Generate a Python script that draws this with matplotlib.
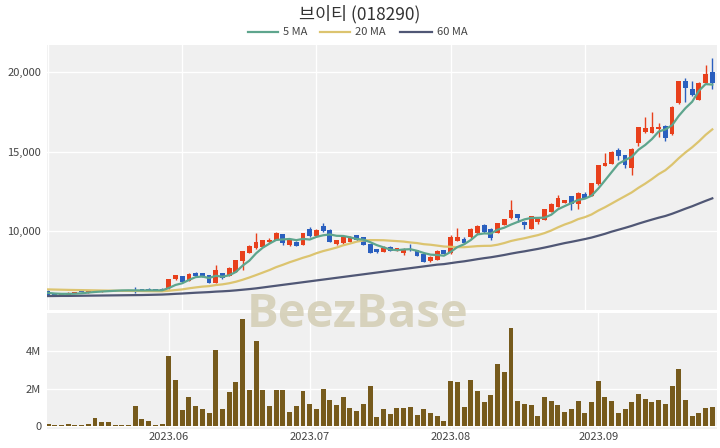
import matplotlib
matplotlib.use('Agg')
import matplotlib.pyplot as plt
from matplotlib.lines import Line2D
from matplotlib.ticker import FuncFormatter, FixedLocator
import numpy as np
import pandas as pd

plt.rcParams['font.family'] = ['Noto Sans CJK KR', 'DejaVu Sans']

title = '브이티 (018290)'
month_labels = ['2023.06', '2023.07', '2023.08', '2023.09']
month_idx = [18, 39, 60, 82]
price_ticks = [10000, 15000, 20000]
vol_ticks = [0, 2000000, 4000000]

opens = [6250, 6080, 5940, 5980, 6110, 6150, 6130, 6150, 6200, 6210,
         6220, 6230, 6240, 6300, 6330, 6350, 6330, 6360, 6390, 6960,
         7150, 6870, 7380, 7330, 7220, 6750, 7330, 7160, 7440, 8130,
         8630, 8910, 9020, 9300, 9460, 9790, 9110, 9330, 9120, 10120,
         9700, 10300, 10080, 9170, 9240, 9330, 9740, 9600, 9160, 8840,
         8700, 9000, 8740, 8620, 8870, 8800, 8550, 8140, 8170, 8800,
         8600, 9400, 9520, 9600, 9850, 10400, 10150, 9900, 10380, 10800,
         11070, 10580, 10130, 10590, 10700, 11220, 11530, 11760, 12200, 11720,
         12330, 12210, 12930, 14100, 14220, 15100, 14790, 13950, 15530, 16220,
         16200, 16420, 16600, 16100, 18050, 19450, 18920, 18280, 19300, 20030]
highs = [6280, 6120, 6080, 6130, 6160, 6180, 6190, 6260, 6280, 6290,
         6280, 6290, 6300, 6500, 6370, 6380, 6360, 6390, 6980, 7250,
         7180, 7350, 7420, 7360, 7240, 7870, 7350, 7750, 8200, 8760,
         9100, 9850, 9450, 9560, 9930, 9820, 9490, 9350, 9880, 10230,
         10150, 10480, 10100, 9440, 9680, 9690, 9760, 9620, 9180, 8860,
         9050, 9030, 8960, 8910, 9180, 8820, 8570, 8400, 8780, 8820,
         9750, 10170, 9600, 10180, 10400, 10450, 10180, 10500, 10760, 11950,
         11100, 10620, 10950, 10900, 11400, 11750, 12290, 11960, 12230, 12480,
         12480, 13030, 14180, 14900, 15030, 15200, 14810, 15230, 16560, 17190,
         17520, 16780, 16650, 17850, 19480, 19630, 19450, 19370, 20450, 20880]
lows = [5960, 5920, 5920, 5960, 6090, 6110, 6120, 6140, 6180, 6200,
        6200, 6210, 6220, 6120, 6230, 6260, 6250, 6260, 6370, 6930,
        6780, 6850, 7150, 7100, 6720, 6720, 7000, 7140, 7420, 7550,
        8600, 8880, 8990, 9250, 9440, 9130, 9080, 9030, 9100, 9640,
        9650, 9930, 9300, 9140, 9150, 9310, 9380, 9100, 8620, 8630,
        8690, 8740, 8720, 8480, 8740, 8420, 8040, 8020, 8150, 8540,
        8580, 9380, 9200, 9580, 9830, 9900, 9440, 9850, 10360, 10780,
        10590, 10100, 10100, 10420, 10680, 11200, 11510, 11740, 11320, 11380,
        12050, 12190, 12900, 14080, 14200, 14480, 13950, 13530, 15360, 16200,
        16180, 15900, 15650, 16050, 18030, 18150, 18500, 18260, 19280, 18950]
closes = [5990, 5950, 6050, 6110, 6140, 6130, 6170, 6240, 6250, 6260,
          6250, 6270, 6280, 6230, 6250, 6280, 6270, 6280, 6950, 7225,
          6810, 7320, 7170, 7130, 6750, 7520, 7020, 7640, 8170, 8740,
          9075, 9330, 9430, 9450, 9900, 9230, 9475, 9060, 9850, 9700,
          10060, 9980, 9330, 9420, 9640, 9650, 9440, 9120, 8640, 8700,
          8950, 8760, 8900, 8870, 8780, 8450, 8070, 8380, 8760, 8560,
          9640, 9600, 9250, 10100, 10330, 9960, 9550, 10480, 10730, 11300,
          10800, 10350, 10930, 10760, 11370, 11720, 12060, 11930, 11720, 12370,
          12100, 13000, 14160, 14300, 15000, 14700, 14180, 15190, 16530, 16500,
          16560, 16540, 15880, 17830, 19450, 19000, 18560, 19350, 19920, 19300]
volumes = [120000, 40000, 40000, 120000, 70000, 70000, 100000, 430000, 200000, 200000,
           70000, 70000, 70000, 1080000, 390000, 250000, 40000, 110000, 3730000, 2470000,
           850000, 1560000, 1070000, 900000, 710000, 4040000, 900000, 1810000, 2350000, 5690000,
           1920000, 4550000, 1900000, 1050000, 1940000, 1940000, 760000, 1050000, 1880000, 1160000,
           900000, 1990000, 1370000, 1140000, 1560000, 980000, 820000, 1160000, 2120000, 500000,
           900000, 620000, 960000, 960000, 1000000, 570000, 890000, 710000, 530000, 280000,
           2400000, 2360000, 1010000, 2450000, 1880000, 1260000, 1670000, 3310000, 2880000, 5210000,
           1350000, 1190000, 1100000, 530000, 1560000, 1350000, 1140000, 750000, 900000, 1350000,
           690000, 1260000, 2420000, 1560000, 1330000, 680000, 890000, 1260000, 1720000, 1460000,
           1260000, 1370000, 1160000, 2130000, 3020000, 1400000, 550000, 680000, 980000, 1030000]

# moving-average values before enough in-window history exists
ma5_head = [6100, 6060, 6040, 6040]
ma20_head = [6320, 6310, 6300, 6290, 6282, 6275, 6268, 6260, 6252, 6245,
             6238, 6232, 6226, 6220, 6215, 6210, 6205, 6200, 6235]
ma60_head = [5900, 5905, 5910, 5910, 5915, 5920, 5925, 5930, 5935, 5940,
             5945, 5950, 5955, 5960, 5965, 5975, 5985, 5995, 6015, 6040,
             6060, 6085, 6110, 6130, 6150, 6180, 6200, 6225, 6260, 6300,
             6340, 6385, 6440, 6496, 6551, 6607, 6662, 6717, 6773, 6828,
             6884, 6939, 6994, 7050, 7105, 7161, 7216, 7271, 7327, 7382,
             7437, 7493, 7548, 7604, 7659, 7714, 7770, 7825, 7881]

close_s = pd.Series(closes, dtype=float)
def moving(n, head):
    m = close_s.rolling(n).mean().to_numpy()
    m[:len(head)] = head
    return m
ma5 = moving(5, ma5_head)
ma20 = moving(20, ma20_head)
ma60 = moving(60, ma60_head)

RED = '#e8401c'
BLUE = '#2a5fbf'
C5 = '#5ea58d'
C20 = '#dcc46f'
C60 = '#505775'
VOLC = '#765a1c'
BG = '#f0f0f0'
TXT = '#444444'

W, H = 720, 448
fig = plt.figure(figsize=(W / 100, H / 100), dpi=100)

def ax_rect(x0, y0, x1, y1):
    return [x0 / W, 1 - y1 / H, (x1 - x0) / W, (y1 - y0) / H]

ax1 = fig.add_axes(ax_rect(46.7, 45, 717, 310))
ax2 = fig.add_axes(ax_rect(46.7, 313, 717, 429))

n = len(closes)
x = np.arange(n)
o = np.array(opens, float); c = np.array(closes, float)
hi = np.array(highs, float); lo = np.array(lows, float)
up = c >= o
cols = np.where(up, RED, BLUE)
bottom = np.minimum(o, c)
height = np.maximum(np.abs(c - o), 70)

for ax in (ax1, ax2):
    ax.set_facecolor(BG)
    for s in ax.spines.values():
        s.set_visible(False)
    ax.set_xlim(-0.2, 99.7)
    ax.tick_params(length=0, labelsize=8, colors=TXT)
    ax.set_axisbelow(True)
    ax.grid(True, color='white', linewidth=1.0)

ax1.vlines(x, lo, hi, colors=cols, linewidth=1.0, zorder=3)
ax1.bar(x, height, bottom=bottom, width=0.72, color=cols, zorder=3.5)
ax1.plot(x, ma60, color=C60, linewidth=1.6, zorder=4)
ax1.plot(x, ma20, color=C20, linewidth=1.6, zorder=4)
ax1.plot(x, ma5, color=C5, linewidth=1.6, zorder=4)
ax1.set_ylim(5022, 21720)
ax1.yaxis.set_major_locator(FixedLocator(price_ticks))
ax1.yaxis.set_major_formatter(FuncFormatter(lambda v, p: f'{v:,.0f}'))
ax1.xaxis.set_major_locator(FixedLocator([0, 20, 40, 60, 80]))
ax1.tick_params(axis='x', labelbottom=False)
ax1.tick_params(axis='y', pad=4)

ax2.bar(x, volumes, width=0.74, color=VOLC, zorder=3)
ax2.set_ylim(-160000, 6030000)
ax2.yaxis.set_major_locator(FixedLocator(vol_ticks))
ax2.yaxis.set_major_formatter(FuncFormatter(lambda v, p: '0' if v == 0 else f'{v/1e6:.0f}M'))
ax2.xaxis.set_major_locator(FixedLocator(month_idx))
ax2.set_xticklabels(month_labels)
ax2.tick_params(axis='y', pad=4)
ax2.tick_params(axis='x', pad=2)

fig.text(0.5, 1 - 14 / H, title, ha='center', va='center', fontsize=12.5, color='#333333')

ly = 1 - 32 / H
for (x0, x1, tx, lab, col) in [(248, 278, 283, '5 MA', C5), (320, 350, 355, '20 MA', C20), (400, 432, 437, '60 MA', C60)]:
    fig.add_artist(Line2D([x0 / W, x1 / W], [ly, ly], color=col, linewidth=1.6, transform=fig.transFigure))
    fig.text(tx / W, ly, lab, ha='left', va='center', fontsize=8, color=TXT)

fig.text(358 / W, 1 - 327 / H, 'BeezBase', ha='center', va='baseline', fontsize=34,
         fontweight='bold', family=['Open Sans', 'DejaVu Sans'], color='#d3cdb3', alpha=0.85, zorder=10)

fig.savefig('out.png', dpi=100)
